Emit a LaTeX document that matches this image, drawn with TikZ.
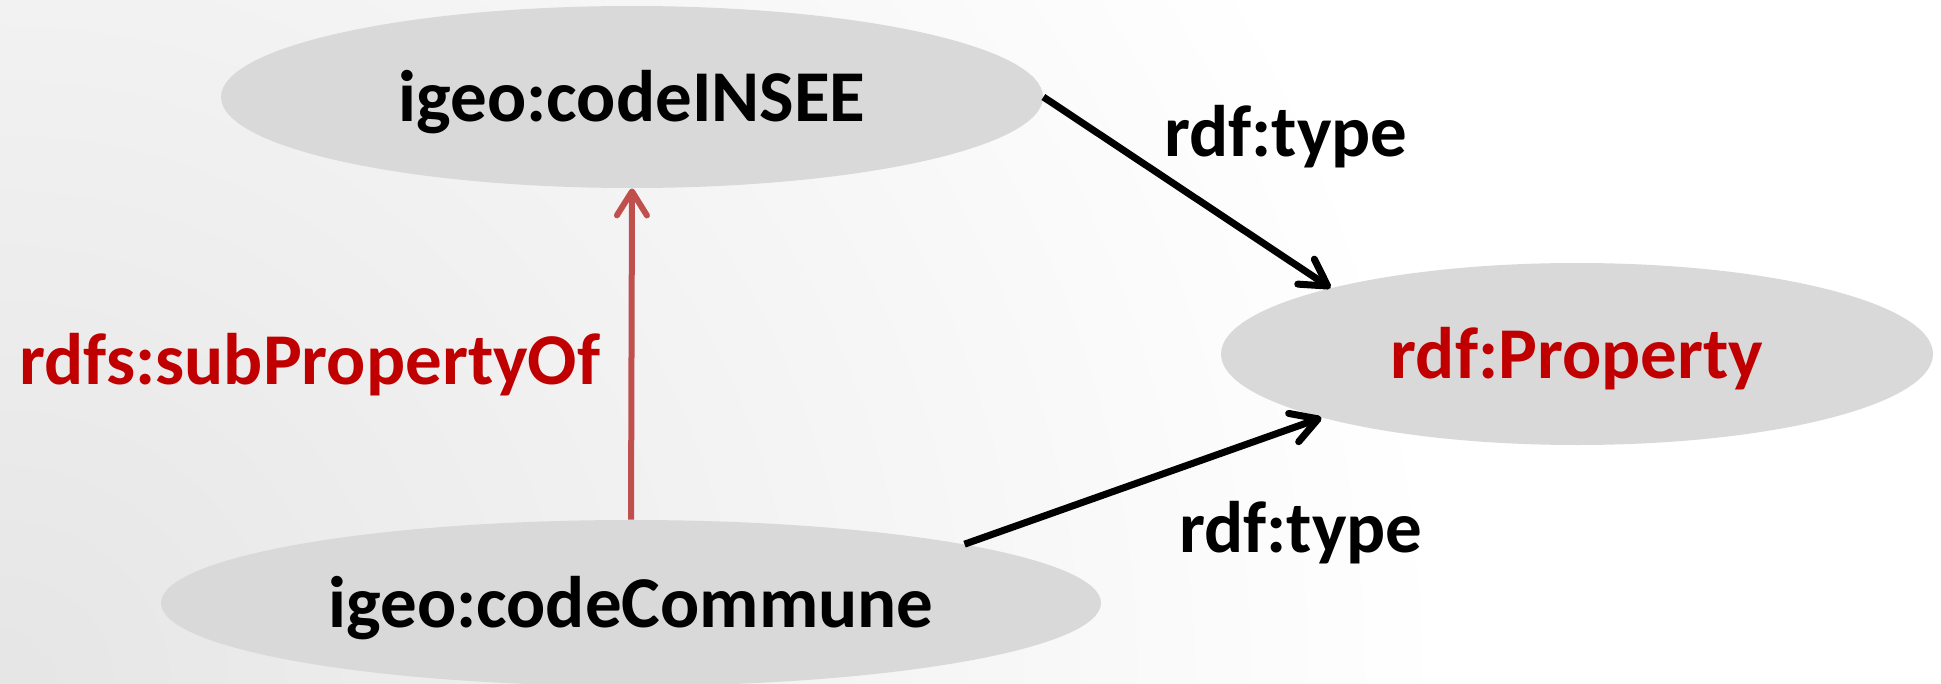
\documentclass[tikz,border=0pt]{standalone}
\usepackage{fontspec}
\setmainfont{Carlito}
\usetikzlibrary{arrows.meta,shapes.geometric}
\definecolor{ellgray}{HTML}{D9D9D9}
\definecolor{txtred}{HTML}{C00000}
\definecolor{arrred}{HTML}{C0504D}
\begin{document}
\begin{tikzpicture}[x=0.5pt,y=-0.5pt,
  every node/.style={font=\fontsize{36.5}{44}\selectfont\bfseries},
  ell/.style={ellipse, fill=ellgray, inner sep=0pt, text height=29.2pt, text depth=5.1pt},
  typearrow/.style={line width=3.5pt, -{Straight Barb[length=13pt,width=15pt,round]}},
  subarrow/.style={arrred, line width=3pt, -{Straight Barb[length=12pt,width=15pt,round]}},
  lbl/.style={anchor=base, inner sep=0pt}]
\useasboundingbox (0,0) rectangle (1941,684);
\fill[white] (0,0) rectangle (1941,684);
\begin{scope}
  \clip (0,0) rectangle (1941,684);
  \shade[inner color=black!10, outer color=white] (0,684) ellipse [x radius=1450, y radius=1400];
\end{scope}
\node[ell, minimum width=411pt, minimum height=91pt] (e1) at (632,97) {igeo:codeINSEE};
\node[ell, minimum width=356pt, minimum height=91pt, text=txtred] (e2) at (1577,354) {rdf:Property};
\node[ell, minimum width=470pt, minimum height=83pt] (e3) at (631,603) {igeo:codeCommune};
\node[lbl] (t1) at (1286,157) {rdf:type};
\node[lbl, text=txtred] (t2) at (310,384) {rdfs:subPropertyOf};
\node[lbl] (t3) at (1301,552) {rdf:type};
\draw[typearrow] (e1.east) -- (e2.165.75);
\draw[typearrow] (e3.10) -- (e2.194.25);
\draw[subarrow] (e3.north) -- (e1.south);
\end{tikzpicture}
\end{document}
